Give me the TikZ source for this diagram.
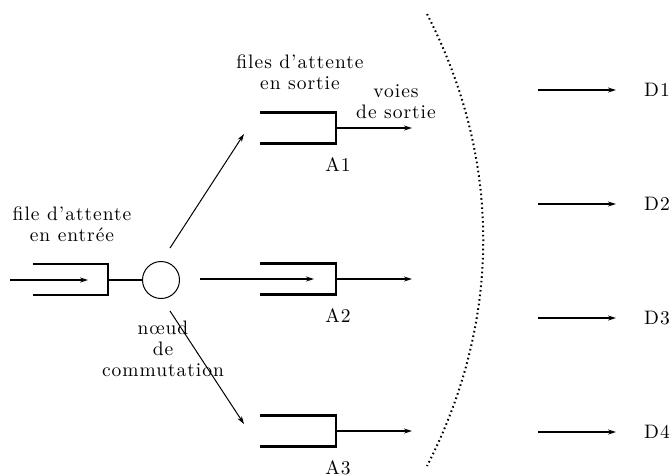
\documentclass[tikz,border=0pt]{standalone}
\usepackage{fontspec}
\setmainfont{lmroman10-regular.otf}[LetterSpace=5]
\usetikzlibrary{arrows.meta}
\begin{document}
\begin{tikzpicture}[x=1pt,y=-1pt,
  thickln/.style={line width=2.6pt},
  thinln/.style={line width=1.3pt},
  hairln/.style={line width=1pt},
  tip/.style={-{Stealth[length=8pt,width=5pt]}},
  lbl/.style={font=\fontsize{19.5}{21}\selectfont, align=center, inner sep=0pt}]
\useasboundingbox (0,0) rectangle (671,475);
% input queue
\draw[thickln] (33,264) -- (108,264) -- (108,295) -- (33,295);
\coordinate (inS) at (10,280);
\coordinate (inE) at (88,280);
\draw[thinln,tip] (inS) -- (inE);
\node[circle,draw,line width=1pt,minimum size=37pt,inner sep=0pt] (sw) at (161,280) {};
\coordinate (qin) at (108,280);
\draw[thinln] (qin) -- (sw);
% output queues
\foreach \n/\y in {A1/128, A2/279, A3/431}{
  \draw[thickln] (260,\y-15.5) -- (336,\y-15.5) -- (336,\y+15.5) -- (260,\y+15.5);
  \coordinate (q\n) at (336,\y);
  \coordinate (o\n) at (412,\y);
  \node[lbl] (l\n) at (338,\y+37) {\n};
}
\draw[thickln,tip] (qA1) -- (oA1);
\draw[thinln,tip] (qA2) -- (oA2);
\draw[thinln,tip] (qA3) -- (oA3);
% switch connectors
\coordinate (u1) at (170,248);
\coordinate (u2) at (244,134);
\coordinate (m1) at (200,279);
\coordinate (m2) at (314,279);
\coordinate (d1) at (170,311);
\coordinate (d2) at (244,424);
\draw[hairln,tip] (u1) -- (u2);
\draw[thinln,tip] (m1) -- (m2);
\draw[hairln,tip] (d1) -- (d2);
% dotted arc
\coordinate (at) at (427,14);
\coordinate (ab) at (427,466);
\draw[line width=2pt, dash pattern=on 1.6pt off 3pt] (at) .. controls (502,160) and (502,320) .. (ab);
% destinations
\foreach \k/\y/\w in {1/90/2.6, 2/204/1.3, 3/318/2.6, 4/432/1.3}{
  \coordinate (s\k) at (538,\y);
  \coordinate (e\k) at (616,\y);
  \draw[line width=\w pt,tip] (s\k) -- (e\k);
  \node[lbl] (D\k) at (657,\y) {D\k};
}
% labels
\node[lbl] (tin) at (72,224) {file d'attente\\en entrée};
\node[lbl] (tout) at (300,72) {files d'attente\\en sortie};
\node[lbl] (tvoies) at (396,102) {voies\\de sortie};
\node[lbl] (tnoeud) at (163,349) {nœud\\de\\commutation};
\end{tikzpicture}
\end{document}
